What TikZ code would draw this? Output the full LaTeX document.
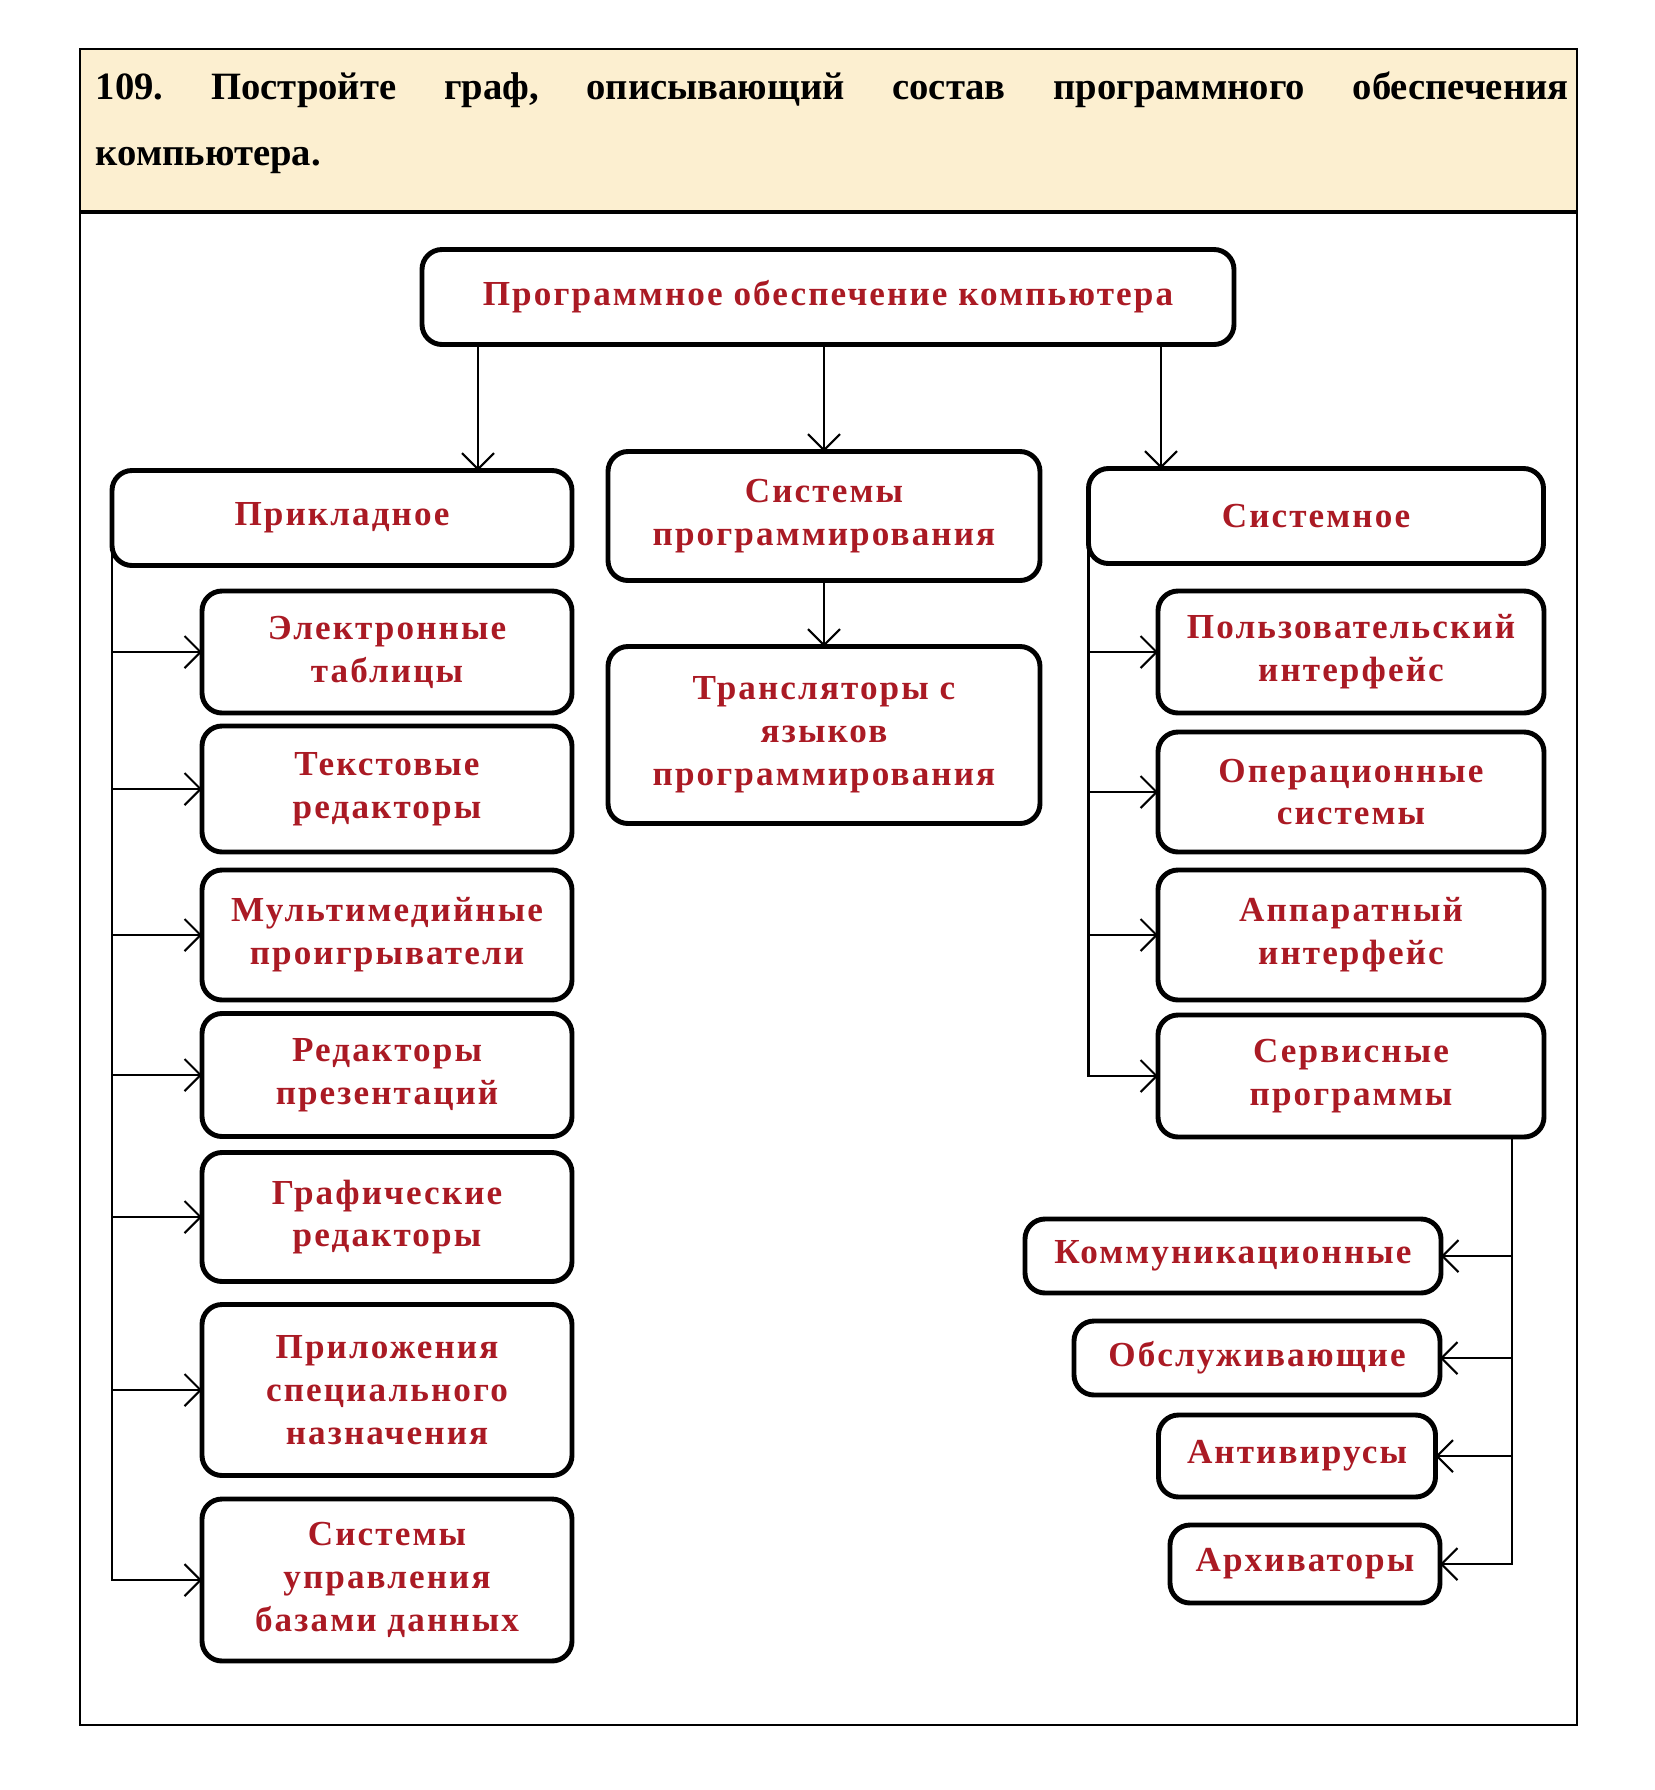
\documentclass[tikz,border=0pt]{standalone}
\usepackage{fontspec}
\setmainfont{Liberation Serif}
\newfontfamily\boxfont[LetterSpace=6]{Liberation Serif}
\usetikzlibrary{arrows.meta,positioning}

\definecolor{txtred}{RGB}{170,26,36}
\definecolor{headfill}{RGB}{252,239,208}

\begin{document}
\begin{tikzpicture}[
    x=0.1mm, y=-0.1mm,
    every node/.style={inner sep=0pt},
    blk/.style={draw, rounded corners=2mm, line width=1.4pt, outer sep=0pt, align=center, text=txtred,
                font=\boxfont\bfseries\fontsize{10}{12.2}\selectfont},
    arr/.style={-{Straight Barb[length=1.6mm, width=3.2mm]}, line width=0.6pt}
]
  \useasboundingbox (0,0) rectangle (1654,1790);

  % task frame
  \fill[headfill] (80,49) rectangle (1577,212);
  \draw[line width=1.2pt] (80,212) -- (1577,212);
  \draw[line width=0.8pt] (80,49) rectangle (1577,1725);
  \node[anchor=north west, text width=147.3mm, align=left,
        font=\bfseries\fontsize{11}{18.8}\selectfont] (task) at (95,71)
    {\hbox to 147.3mm{109.\hfill Постройте\hfill граф,\hfill описывающий\hfill состав\hfill программного\hfill обеспечения}\\компьютера.};

  \node[blk, minimum width=81.2mm, minimum height=9.5mm] (top) at (828,297) {Программное обеспечение компьютера};

  \node[blk, minimum width=46mm, minimum height=9.5mm] (pri) at (342,518) {Прикладное};
  \node[blk, minimum width=43.2mm, minimum height=12.9mm] (prog) at (824,516) {Системы\\программирования};
  \node[blk, minimum width=45.5mm, minimum height=9.5mm] (sys) at (1316,516) {Системное};
  \node[blk, minimum width=43.2mm, minimum height=17.7mm] (trans) at (824,735) {Трансляторы с\\языков\\программирования};

  % applied software
  \node[blk, minimum width=37mm, minimum height=12.2mm] (e1) at (387,652) {Электронные\\таблицы};
  \node[blk, minimum width=37mm, minimum height=12.6mm] (e2) at (387,789) {Текстовые\\редакторы};
  \node[blk, minimum width=37mm, minimum height=13mm] (e3) at (387,935) {Мультимедийные\\проигрыватели};
  \node[blk, minimum width=37mm, minimum height=12.3mm] (e4) at (387,1075) {Редакторы\\презентаций};
  \node[blk, minimum width=37mm, minimum height=12.9mm] (e5) at (387,1217) {Графические\\редакторы};
  \node[blk, minimum width=37mm, minimum height=17.1mm] (e6) at (387,1390) {Приложения\\специального\\назначения};
  \node[blk, minimum width=37mm, minimum height=16.2mm] (e7) at (387,1580) {Системы\\управления\\базами данных};

  % system software
  \node[blk, minimum width=38.6mm, minimum height=12.2mm] (s1) at (1351,652) {Пользовательский\\интерфейс};
  \node[blk, minimum width=38.6mm, minimum height=12mm] (s2) at (1351,792) {Операционные\\системы};
  \node[blk, minimum width=38.6mm, minimum height=13mm] (s3) at (1351,935) {Аппаратный\\интерфейс};
  \node[blk, minimum width=38.6mm, minimum height=12.2mm] (s4) at (1351,1076) {Сервисные\\программы};

  % utilities
  \node[blk, minimum width=41.6mm, minimum height=7.4mm] (u1) at (1233,1256) {Коммуникационные};
  \node[blk, minimum width=36.6mm, minimum height=7.4mm] (u2) at (1257,1358) {Обслуживающие};
  \node[blk, minimum width=27.7mm, minimum height=8.2mm] (u3) at (1297,1456) {Антивирусы};
  \node[blk, minimum width=27mm, minimum height=7.8mm] (u4) at (1305,1564) {Архиваторы};

  \coordinate (t1) at ([xshift=5.6mm]top.south west);
  \coordinate (t3) at ([xshift=-7.3mm]top.south east);
  \draw[arr] (t1) -- (t1 |- pri.north);
  \draw[arr] (top.south -| prog.north) -- (prog.north);
  \draw[arr] (t3) -- (t3 |- sys.north);
  \draw[arr] (prog) -- (trans);

  \foreach \i in {1,...,7}{
    \draw[arr] ([yshift=2mm]pri.south west) |- (e\i.west);
  }
  \foreach \i in {1,...,4}{
    \draw[arr] ([yshift=2mm]sys.south west) |- (s\i.west);
  }
  \foreach \i in {1,...,4}{
    \draw[arr] ([xshift=-3.2mm]s4.south east) |- (u\i.east);
  }
\end{tikzpicture}
\end{document}
